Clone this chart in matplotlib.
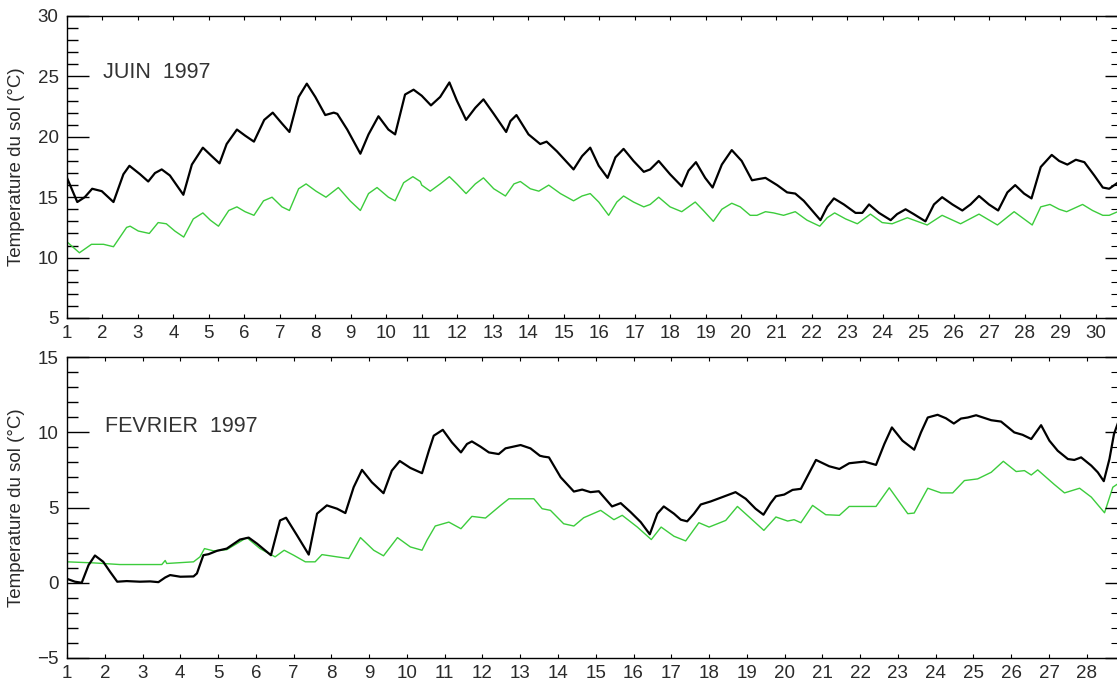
import numpy as np
import matplotlib
matplotlib.use("Agg")
import matplotlib.pyplot as plt
from matplotlib.ticker import MultipleLocator

plt.rcParams['font.family'] = ['Liberation Sans', 'DejaVu Sans']

# (jour, temperature)
# juin 1997 - black curve
juin_noir = [
    (1.0, 16.6), (1.29, 14.6), (1.5, 15.0), (1.71, 15.7), (1.98, 15.5), (2.31, 14.6),
    (2.59, 16.9), (2.76, 17.6), (3.06, 16.9), (3.29, 16.3), (3.48, 17.0), (3.67, 17.3),
    (3.9, 16.8), (4.09, 16.0), (4.28, 15.2), (4.52, 17.7), (4.83, 19.1), (5.08, 18.4),
    (5.3, 17.8), (5.5, 19.4), (5.79, 20.6), (6.02, 20.1), (6.27, 19.6), (6.56, 21.4),
    (6.8, 22.0), (7.06, 21.1), (7.27, 20.4), (7.53, 23.3), (7.76, 24.4), (8.0, 23.3),
    (8.28, 21.8), (8.52, 22.0), (8.62, 21.9), (8.9, 20.6), (9.27, 18.6), (9.5, 20.2),
    (9.78, 21.7), (10.06, 20.6), (10.25, 20.2), (10.53, 23.5), (10.77, 23.9), (11.0, 23.4),
    (11.26, 22.6), (11.52, 23.3), (11.78, 24.5), (11.99, 23.0), (12.25, 21.4), (12.51, 22.4),
    (12.74, 23.1), (13.03, 21.9), (13.38, 20.4), (13.5, 21.3), (13.67, 21.8), (14.01, 20.2),
    (14.34, 19.4), (14.52, 19.6), (14.81, 18.8), (15.28, 17.3), (15.52, 18.4), (15.75, 19.1),
    (15.99, 17.6), (16.24, 16.6), (16.46, 18.3), (16.69, 19.0), (16.97, 18.0), (17.26, 17.1),
    (17.44, 17.3), (17.68, 18.0), (18.0, 16.9), (18.33, 15.9), (18.52, 17.2), (18.73, 17.9),
    (18.99, 16.6), (19.2, 15.8), (19.46, 17.7), (19.74, 18.9), (20.02, 18.0), (20.31, 16.4),
    (20.49, 16.5), (20.69, 16.6), (21.02, 16.0), (21.3, 15.4), (21.53, 15.3), (21.77, 14.7),
    (22.24, 13.1), (22.43, 14.2), (22.62, 14.9), (22.9, 14.4), (23.23, 13.7), (23.42, 13.7),
    (23.61, 14.4), (23.89, 13.7), (24.22, 13.1), (24.4, 13.6), (24.64, 14.0), (24.87, 13.6),
    (25.2, 13.0), (25.44, 14.4), (25.67, 15.0), (25.96, 14.4), (26.24, 13.9), (26.47, 14.4),
    (26.71, 15.1), (26.99, 14.4), (27.25, 13.9), (27.51, 15.4), (27.73, 16.0), (27.98, 15.3),
    (28.19, 14.9), (28.45, 17.5), (28.76, 18.5), (28.97, 18.0), (29.2, 17.7), (29.44, 18.1),
    (29.68, 17.9), (29.96, 16.8), (30.2, 15.8), (30.38, 15.7), (30.62, 16.2),
]
# juin 1997 - green curve
juin_vert = [
    (1.0, 11.3), (1.35, 10.4), (1.69, 11.1), (2.03, 11.1), (2.31, 10.9), (2.68, 12.5),
    (2.78, 12.6), (3.01, 12.2), (3.32, 12.0), (3.57, 12.9), (3.8, 12.8), (4.04, 12.2),
    (4.29, 11.7), (4.56, 13.2), (4.83, 13.7), (5.04, 13.1), (5.27, 12.6), (5.56, 13.9),
    (5.79, 14.2), (6.02, 13.8), (6.27, 13.5), (6.54, 14.7), (6.78, 15.0), (7.06, 14.2),
    (7.27, 13.9), (7.53, 15.7), (7.74, 16.1), (8.02, 15.5), (8.3, 15.0), (8.65, 15.8),
    (8.98, 14.7), (9.27, 13.9), (9.5, 15.3), (9.74, 15.8), (10.06, 15.0), (10.25, 14.7),
    (10.49, 16.2), (10.75, 16.7), (10.96, 16.3), (11.0, 16.0), (11.24, 15.5), (11.52, 16.1),
    (11.78, 16.7), (11.99, 16.1), (12.25, 15.3), (12.51, 16.1), (12.74, 16.6), (13.03, 15.7),
    (13.36, 15.1), (13.6, 16.1), (13.78, 16.3), (14.06, 15.7), (14.3, 15.5), (14.58, 16.0),
    (14.91, 15.3), (15.28, 14.7), (15.52, 15.1), (15.75, 15.3), (15.99, 14.6), (16.27, 13.5),
    (16.5, 14.6), (16.69, 15.1), (16.97, 14.6), (17.26, 14.2), (17.44, 14.4), (17.68, 15.0),
    (18.0, 14.2), (18.33, 13.8), (18.71, 14.6), (18.94, 13.9), (19.22, 13.0), (19.46, 14.0),
    (19.74, 14.5), (19.98, 14.2), (20.26, 13.5), (20.45, 13.5), (20.69, 13.8), (20.92, 13.7),
    (21.2, 13.5), (21.53, 13.8), (21.86, 13.1), (22.22, 12.6), (22.43, 13.3), (22.64, 13.7),
    (22.95, 13.2), (23.28, 12.8), (23.65, 13.6), (23.98, 12.9), (24.26, 12.8), (24.69, 13.3),
    (25.25, 12.7), (25.67, 13.5), (26.19, 12.8), (26.71, 13.6), (27.23, 12.7), (27.7, 13.8),
    (28.21, 12.7), (28.45, 14.2), (28.71, 14.4), (28.97, 14.0), (29.18, 13.8), (29.63, 14.4),
    (29.91, 13.9), (30.2, 13.5), (30.38, 13.5), (30.62, 13.8),
]
# fevrier 1997 - black curve
fevrier_noir = [
    (1.0, 0.26), (1.21, 0.07), (1.39, 0.0), (1.57, 1.17), (1.74, 1.81), (1.96, 1.39),
    (2.14, 0.73), (2.33, 0.07), (2.58, 0.11), (2.93, 0.07), (3.2, 0.09), (3.42, 0.04),
    (3.6, 0.35), (3.73, 0.51), (4.0, 0.4), (4.35, 0.42), (4.44, 0.62), (4.61, 1.83),
    (4.75, 1.9), (4.97, 2.12), (5.23, 2.27), (5.58, 2.87), (5.81, 3.0), (6.03, 2.6),
    (6.4, 1.83), (6.64, 4.14), (6.8, 4.32), (7.09, 3.15), (7.4, 1.87), (7.62, 4.59),
    (7.88, 5.14), (8.15, 4.92), (8.37, 4.63), (8.59, 6.35), (8.81, 7.5), (9.07, 6.68),
    (9.38, 5.95), (9.6, 7.45), (9.81, 8.09), (10.09, 7.63), (10.4, 7.28), (10.58, 8.77),
    (10.71, 9.77), (10.95, 10.16), (11.19, 9.33), (11.43, 8.66), (11.59, 9.22), (11.72, 9.39),
    (11.95, 9.04), (12.17, 8.66), (12.43, 8.55), (12.61, 8.93), (13.01, 9.15), (13.27, 8.93),
    (13.52, 8.44), (13.62, 8.38), (13.76, 8.33), (14.07, 7.01), (14.42, 6.06), (14.64, 6.19),
    (14.86, 6.02), (15.08, 6.08), (15.43, 5.07), (15.66, 5.29), (15.92, 4.7), (16.19, 4.03),
    (16.43, 3.22), (16.63, 4.59), (16.8, 5.07), (17.07, 4.59), (17.25, 4.19), (17.42, 4.08),
    (17.6, 4.59), (17.78, 5.2), (18.04, 5.4), (18.35, 5.69), (18.7, 6.02), (18.97, 5.58),
    (19.23, 4.92), (19.44, 4.52), (19.63, 5.29), (19.77, 5.75), (19.99, 5.86), (20.21, 6.17),
    (20.43, 6.24), (20.83, 8.16), (21.18, 7.74), (21.45, 7.56), (21.71, 7.94), (22.11, 8.05),
    (22.42, 7.83), (22.64, 9.22), (22.84, 10.32), (23.12, 9.44), (23.43, 8.84), (23.61, 9.99),
    (23.79, 10.98), (24.05, 11.16), (24.27, 10.93), (24.48, 10.58), (24.67, 10.91), (24.85, 10.98),
    (25.07, 11.13), (25.47, 10.8), (25.73, 10.71), (26.08, 9.99), (26.3, 9.83), (26.53, 9.55),
    (26.79, 10.47), (27.01, 9.44), (27.23, 8.77), (27.5, 8.22), (27.67, 8.16), (27.85, 8.33),
    (28.12, 7.78), (28.29, 7.34), (28.45, 6.75), (28.6, 8.22), (28.72, 9.88), (28.82, 10.58),
]
# fevrier 1997 - green curve
fevrier_vert = [
    (1.0, 1.39), (1.7, 1.32), (2.4, 1.21), (3.02, 1.21), (3.51, 1.21), (3.6, 1.48),
    (3.64, 1.28), (4.35, 1.39), (4.52, 1.72), (4.64, 2.27), (4.88, 2.12), (5.23, 2.2),
    (5.76, 3.0), (6.11, 2.27), (6.51, 1.72), (6.75, 2.16), (7.0, 1.83), (7.31, 1.39),
    (7.57, 1.39), (7.75, 1.87), (8.15, 1.72), (8.46, 1.61), (8.77, 3.0), (9.12, 2.16),
    (9.38, 1.79), (9.75, 3.0), (10.09, 2.38), (10.4, 2.16), (10.53, 2.82), (10.75, 3.77),
    (11.11, 4.03), (11.43, 3.59), (11.72, 4.41), (12.08, 4.3), (12.48, 5.14), (12.7, 5.58),
    (13.36, 5.58), (13.58, 4.92), (13.8, 4.81), (14.15, 3.92), (14.42, 3.77), (14.68, 4.32),
    (15.13, 4.81), (15.48, 4.19), (15.7, 4.48), (16.1, 3.7), (16.47, 2.87), (16.73, 3.7),
    (17.07, 3.09), (17.38, 2.78), (17.73, 3.99), (18.0, 3.7), (18.44, 4.14), (18.75, 5.07),
    (19.06, 4.37), (19.45, 3.48), (19.77, 4.37), (20.08, 4.1), (20.25, 4.19), (20.43, 3.99),
    (20.74, 5.14), (21.09, 4.52), (21.45, 4.48), (21.71, 5.07), (22.42, 5.07), (22.77, 6.31),
    (23.26, 4.59), (23.43, 4.63), (23.79, 6.28), (24.14, 5.97), (24.45, 5.97), (24.76, 6.79),
    (25.11, 6.9), (25.47, 7.34), (25.79, 8.07), (26.13, 7.39), (26.35, 7.45), (26.53, 7.16),
    (26.7, 7.5), (27.14, 6.53), (27.41, 5.97), (27.81, 6.28), (28.12, 5.69), (28.47, 4.65),
    (28.69, 6.35), (28.82, 6.57),
]

titres = ["JUIN  1997", "FEVRIER  1997"]
ylabel = "Temperature du sol (°C)"

panels = [
    dict(noir=juin_noir, vert=juin_vert, xlim=(1, 30.6), ylim=(5, 30), ndays=30,
         rect=[67 / 1117, 362 / 680, 1050 / 1117, 302 / 680], titre_pos=(2.02, 25.3)),
    dict(noir=fevrier_noir, vert=fevrier_vert, xlim=(1, 28.8), ylim=(-5, 15), ndays=28,
         rect=[67 / 1117, 22 / 680, 1050 / 1117, 301 / 680], titre_pos=(2.0, 10.4)),
]

fig = plt.figure(figsize=(11.17, 6.80), dpi=100)
txt = '#2a2a2a'

for p, titre in zip(panels, titres):
    ax = fig.add_axes(p['rect'])
    v = np.array(p['vert'])
    n = np.array(p['noir'])
    ax.plot(v[:, 0], v[:, 1], color='#3ccc3c', lw=1.0, solid_joinstyle='round')
    ax.plot(n[:, 0], n[:, 1], color='black', lw=1.6, solid_joinstyle='round')
    ax.set_xlim(*p['xlim'])
    ax.set_ylim(*p['ylim'])

    ax.set_xticks(np.arange(1, p['ndays'] + 1))
    ax.yaxis.set_major_locator(MultipleLocator(5))
    ax.yaxis.set_minor_locator(MultipleLocator(1))
    ax.tick_params(axis='x', direction='in', length=3, width=0.8, top=True,
                   labelsize=13.5, pad=5, colors='black', labelcolor=txt)
    ax.tick_params(axis='y', which='major', direction='in', length=16, width=1.0,
                   labelsize=13.5, pad=6, labelcolor=txt)
    ax.tick_params(axis='y', which='minor', direction='in', length=8, width=1.0)
    ax.spines['right'].set_visible(False)
    for s in ['left', 'top', 'bottom']:
        ax.spines[s].set_linewidth(1.0)

    # right side ticks are shorter
    ax2 = ax.twinx()
    ax2.set_ylim(*p['ylim'])
    ax2.yaxis.set_major_locator(MultipleLocator(5))
    ax2.yaxis.set_minor_locator(MultipleLocator(1))
    ax2.tick_params(axis='y', which='major', direction='in', length=9, width=1.0, labelright=False)
    ax2.tick_params(axis='y', which='minor', direction='in', length=4, width=0.8)
    for s in ax2.spines.values():
        s.set_visible(False)

    ax.set_ylabel(ylabel, fontsize=13.5, color=txt)
    ax.yaxis.set_label_coords(-0.040, 0.5)
    ax.text(p['titre_pos'][0], p['titre_pos'][1], titre, fontsize=15.5, color='#333333',
            ha='left', va='center')

    fig.canvas.draw()
    ticks = ax.yaxis.get_major_ticks()
    ticks[-1].label1.set_verticalalignment('top')

fig.savefig("out.png", dpi=100)
